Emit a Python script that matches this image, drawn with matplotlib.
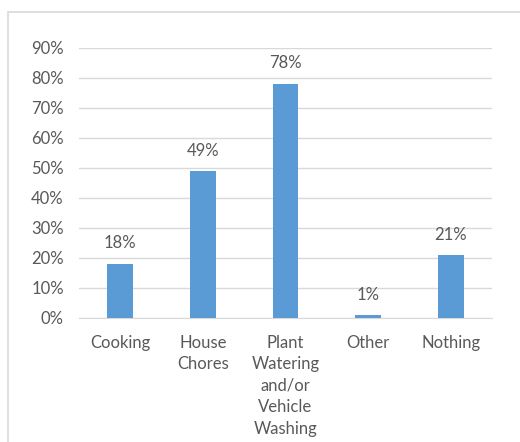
import matplotlib
matplotlib.use("Agg")
import matplotlib.pyplot as plt
from matplotlib.patches import Rectangle
from matplotlib.ticker import PercentFormatter, MultipleLocator

categories = ["Cooking", "House\nChores", "Plant\nWatering\nand/or\nVehicle\nWashing", "Other", "Nothing"]
values = [18, 49, 78, 1, 21]
value_labels = ["18%", "49%", "78%", "1%", "21%"]

plt.rcParams['font.family'] = ['Lato', 'DejaVu Sans']
text_color = "#595959"
bar_color = "#5B9BD5"
grid_color = "#D9D9D9"

fig = plt.figure(figsize=(5.2, 4.42), dpi=100)
fig.patches.append(Rectangle((8/520, -0.1), 1.2, 1 - 12/442 + 0.1, transform=fig.transFigure,
                             fill=False, edgecolor="#D9D9D9", linewidth=1.2))
ax = fig.add_axes([79/520, 1 - 318/442, (492-79)/520, (318-48)/442])

x = range(len(categories))
bars = ax.bar(x, values, width=0.31, color=bar_color, zorder=3)
ax.set_ylim(0, 90)
ax.set_xlim(-0.5, len(categories) - 0.5)
ax.yaxis.set_major_locator(MultipleLocator(10))
ax.yaxis.set_major_formatter(PercentFormatter(decimals=0))
ax.grid(axis='y', color=grid_color, linewidth=1, zorder=0)
for s in ["top", "right", "left"]:
    ax.spines[s].set_visible(False)
ax.spines["bottom"].set_color(grid_color)
ax.tick_params(axis='both', length=0, colors=text_color, labelsize=12)
ax.tick_params(axis='y', pad=11)
ax.tick_params(axis='x', pad=12)
ax.set_xticks(list(x))
ax.set_xticklabels(categories, linespacing=1.42)

for xi, v, lab in zip(x, values, value_labels):
    ax.annotate(lab, (xi, v), xytext=(0, 9), textcoords="offset points",
                ha="center", va="bottom", color=text_color, fontsize=12)

fig.savefig("out.png", dpi=100)
